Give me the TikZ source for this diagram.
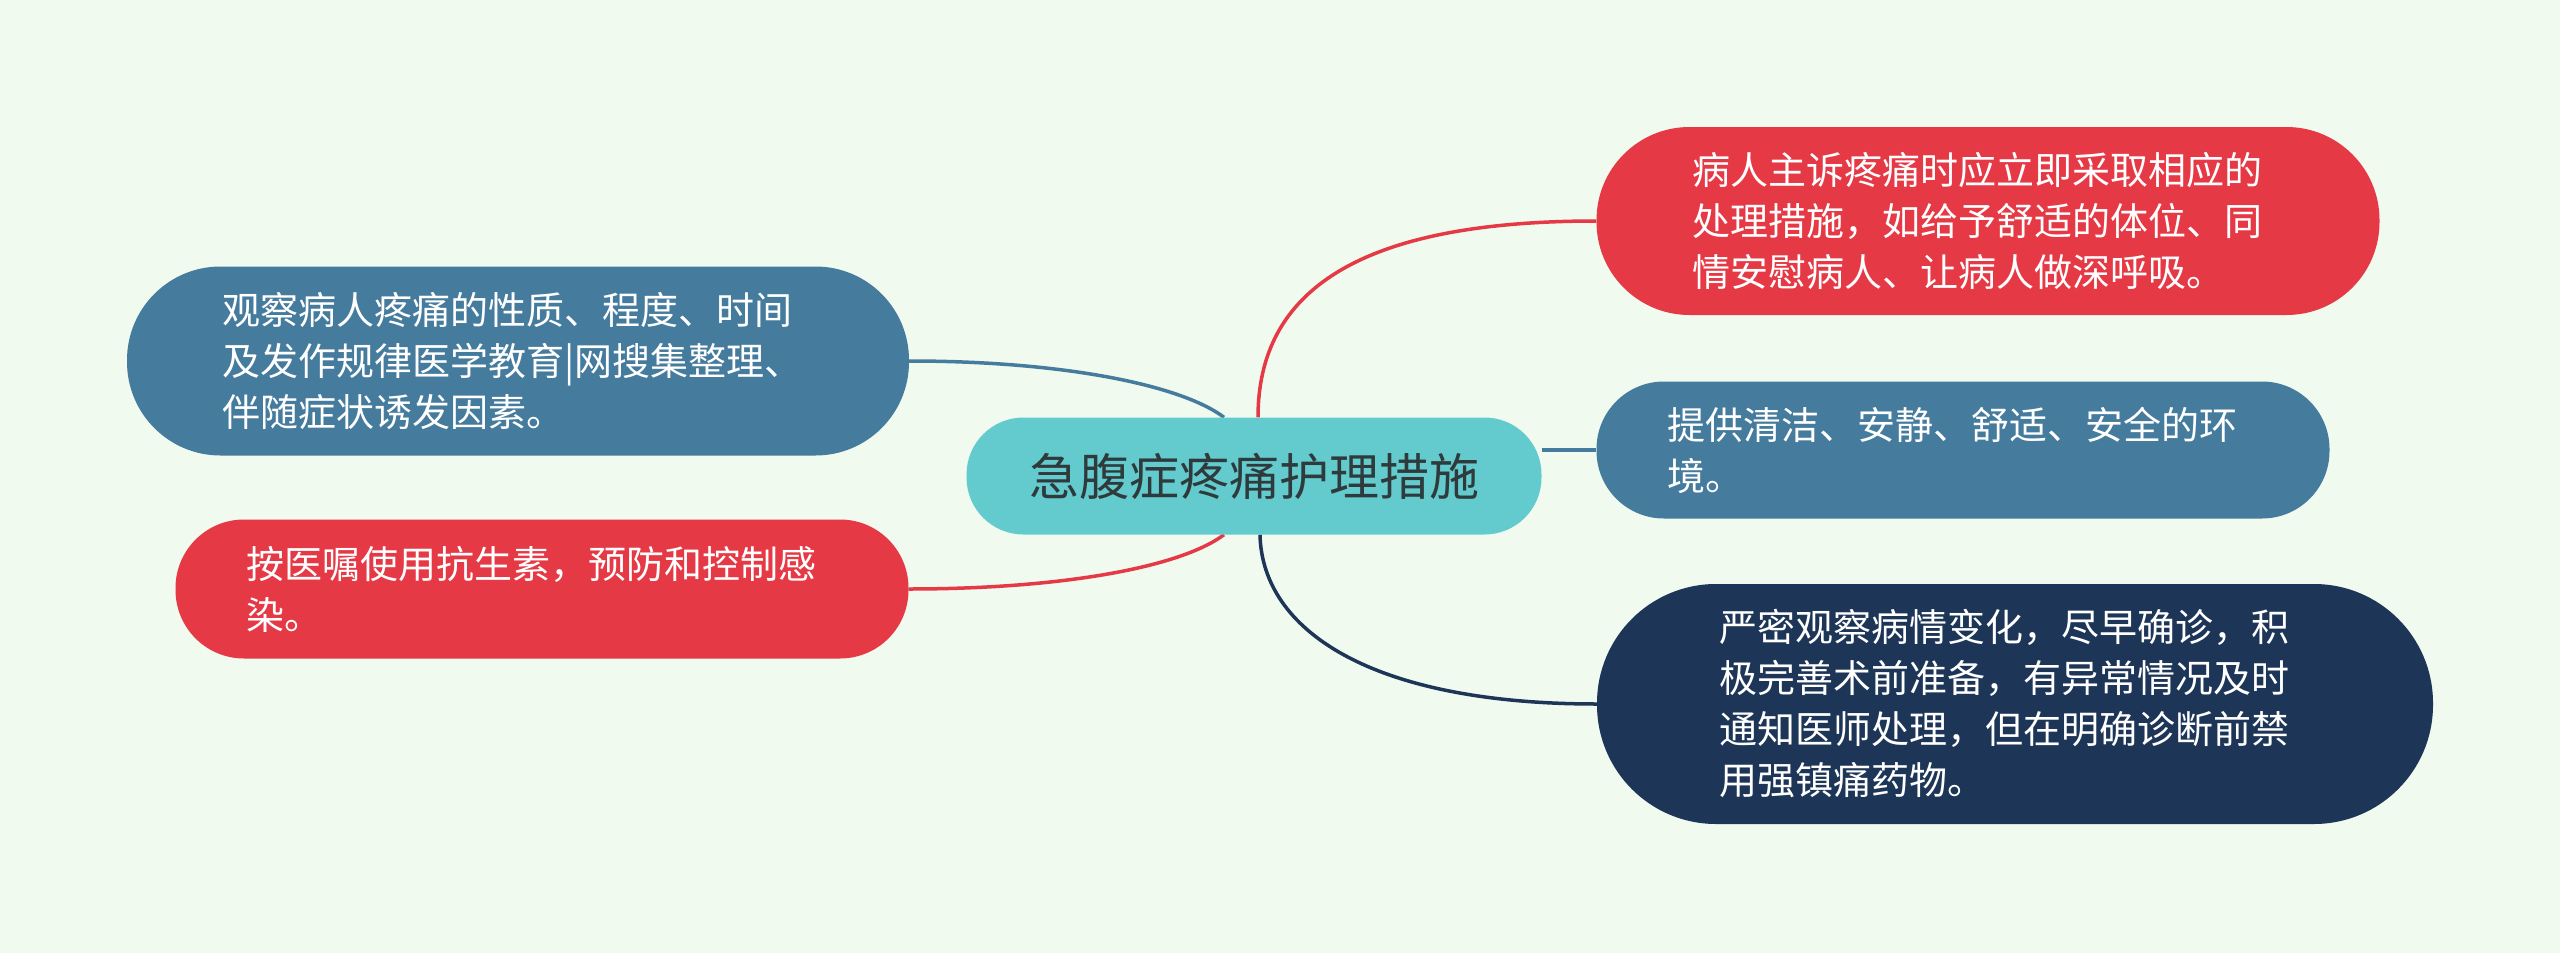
\documentclass[tikz,border=0pt]{standalone}
\usepackage{fontspec}
\newfontfamily\cjk{Noto Sans CJK SC}
\usetikzlibrary{calc}
\definecolor{bgc}{HTML}{F0FAEF}
\definecolor{rootc}{HTML}{63CBCE}
\definecolor{roottxt}{HTML}{2E3A3B}
\definecolor{redc}{HTML}{E63946}
\definecolor{bluec}{HTML}{457B9D}
\definecolor{navyc}{HTML}{1D3557}
\pgfdeclarelayer{bg}
\pgfdeclarelayer{edges}
\pgfsetlayers{bg,edges,main}

\begin{document}
\begin{tikzpicture}[x=1pt,y=-1pt,inner sep=0pt,
  pill/.style n args={3}{fill=#1,text=white,align=left,text width=592,minimum width=#2,
    minimum height=#3,rounded corners=#3/2-1,font=\cjk\fontsize{38}{51}\selectfont},
  link/.style={line width=3.5pt}]
\useasboundingbox (0,0) rectangle (2560,953);
\begin{pgfonlayer}{bg}
\fill[bgc] (0,0) rectangle (2560,953);
\end{pgfonlayer}

\node[fill=rootc,text=roottxt,minimum width=575,minimum height=117,rounded corners=57,
  font=\cjk\fontsize{50}{60}\selectfont] (root) at (1254,476) {急腹症疼痛护理措施};

\node[pill={redc}{783}{188}] (tr) at (1988,221)
  {病人主诉疼痛时应立即采取相应的\\处理措施，如给予舒适的体位、同\\情安慰病人、让病人做深呼吸。};
\node[pill={bluec}{733}{137}] (rb) at (1963,450)
  {提供清洁、安静、舒适、安全的环\\境。};
\node[pill={navyc}{836}{240}] (rn) at (2015,704)
  {严密观察病情变化，尽早确诊，积\\极完善术前准备，有异常情况及时\\通知医师处理，但在明确诊断前禁\\用强镇痛药物。};
\node[pill={bluec}{782}{189}] (lb) at (518,361)
  {观察病人疼痛的性质、程度、时间\\及发作规律医学教育|网搜集整理、\\伴随症状诱发因素。};
\node[pill={redc}{733}{139}] (lr) at (542,589)
  {按医嘱使用抗生素，预防和控制感\\染。};

\begin{pgfonlayer}{edges}
\draw[link,redc] ([xshift=4pt]root.north) .. controls ($(root.north)+(4,-125)$) and ($(tr.west)+(-240,0)$) .. (tr.west);
\draw[link,bluec] (root.east |- rb.west) -- (rb.west);
\draw[link,navyc] ([xshift=6pt]root.south) .. controls ($(root.south)+(8,95)$) and ($(rn.west)+(-227,0)$) .. (rn.west);
\draw[link,bluec] ([xshift=-30pt]root.north) .. controls ($(root.north)+(-74,-33)$) and ($(lb.east)+(151,0)$) .. (lb.east);
\draw[link,redc] ([xshift=-30pt]root.south) .. controls ($(root.south)+(-74,33)$) and ($(lr.east)+(151,0)$) .. (lr.east);
\end{pgfonlayer}
\end{tikzpicture}
\end{document}
